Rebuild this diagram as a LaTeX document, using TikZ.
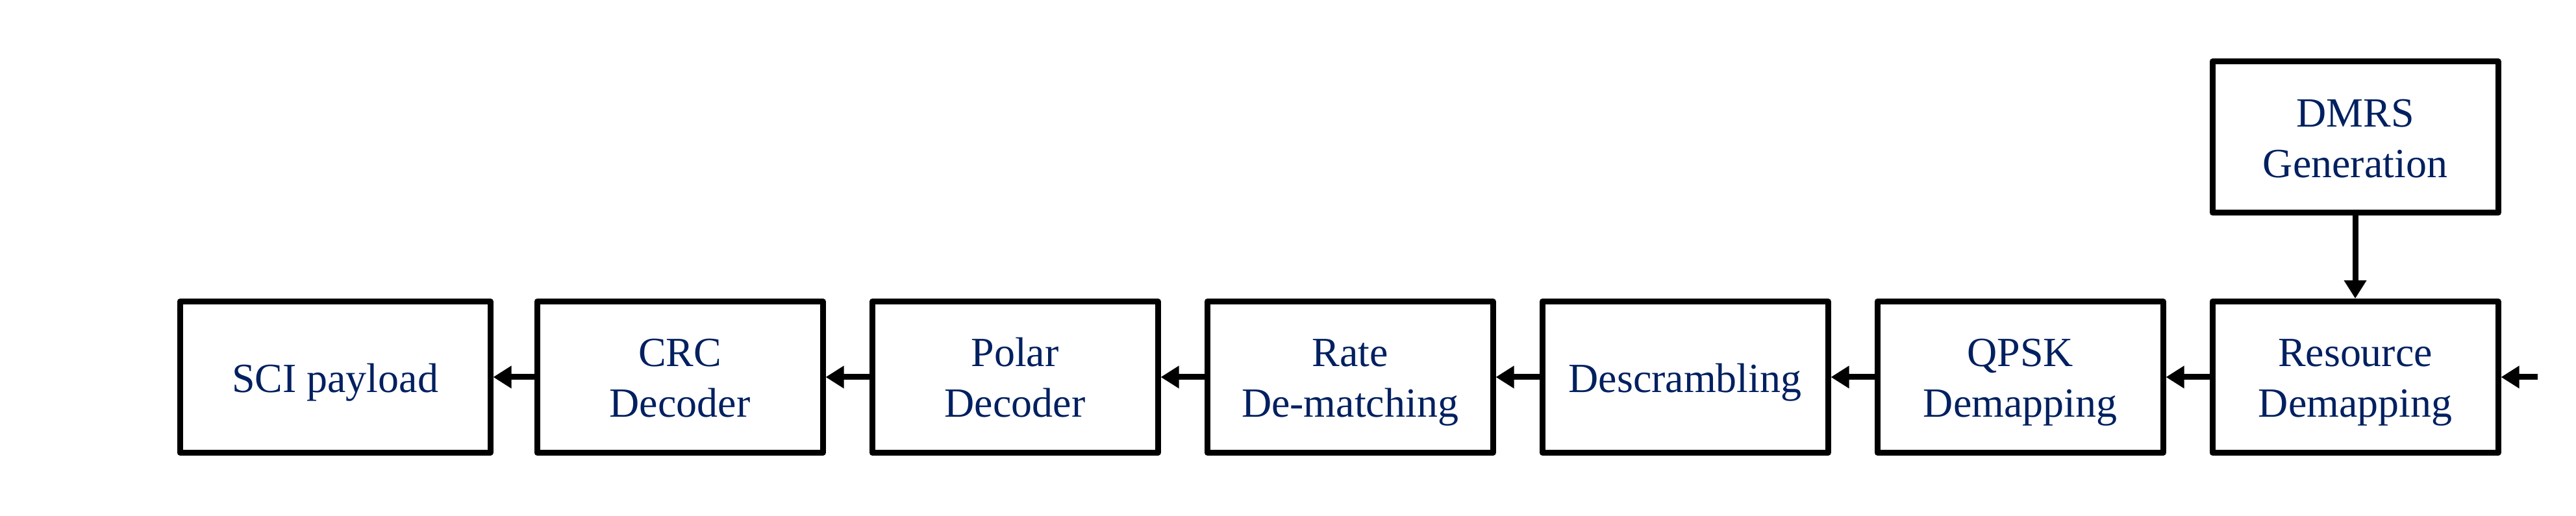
\documentclass[tikz,border=0pt]{standalone}
\usepackage{fontspec}
\setmainfont{Liberation Serif}
\usepackage{tikz}
\usetikzlibrary{positioning,arrows.meta}
\definecolor{txtblue}{RGB}{0,32,96}

\begin{document}
\begin{tikzpicture}[line width=2.56pt,
  block/.style={draw=black,line join=round,minimum width=4.4cm,minimum height=2.33cm,
    align=center,inner sep=0pt,text=txtblue,font=\fontsize{18.2}{22.2}\selectfont,
    text height=0.67cm,text depth=0.2cm},
  twoline/.style={block,text height=1.44cm},
  link/.style={-{Triangle[length=0.28cm,width=0.33cm]}}]

\useasboundingbox (0,0) rectangle (39.67,7.95);

\node [twoline] (res) at (36.27,2.14) {Resource\\Demapping};
\node [twoline,above=1.275cm of res] (dmrs) {DMRS\\Generation};
\node [twoline,left=0.67cm of res] (qpsk) {QPSK\\Demapping};
\node [block,left=0.67cm of qpsk] (descr) {Descrambling};
\node [twoline,left=0.67cm of descr] (rate) {Rate\\De-matching};
\node [twoline,left=0.67cm of rate] (polar) {Polar\\Decoder};
\node [twoline,left=0.67cm of polar] (crc) {CRC\\Decoder};
\node [block,left=0.63cm of crc,minimum width=4.78cm] (sci) {SCI payload};

\coordinate (rxin) at (39.08,2.14);

\draw [link] (rxin) -- (res);
\draw [link] (dmrs) -- (res);
\draw [link] (res) -- (qpsk);
\draw [link] (qpsk) -- (descr);
\draw [link] (descr) -- (rate);
\draw [link] (rate) -- (polar);
\draw [link] (polar) -- (crc);
\draw [link] (crc) -- (sci);

\end{tikzpicture}
\end{document}
